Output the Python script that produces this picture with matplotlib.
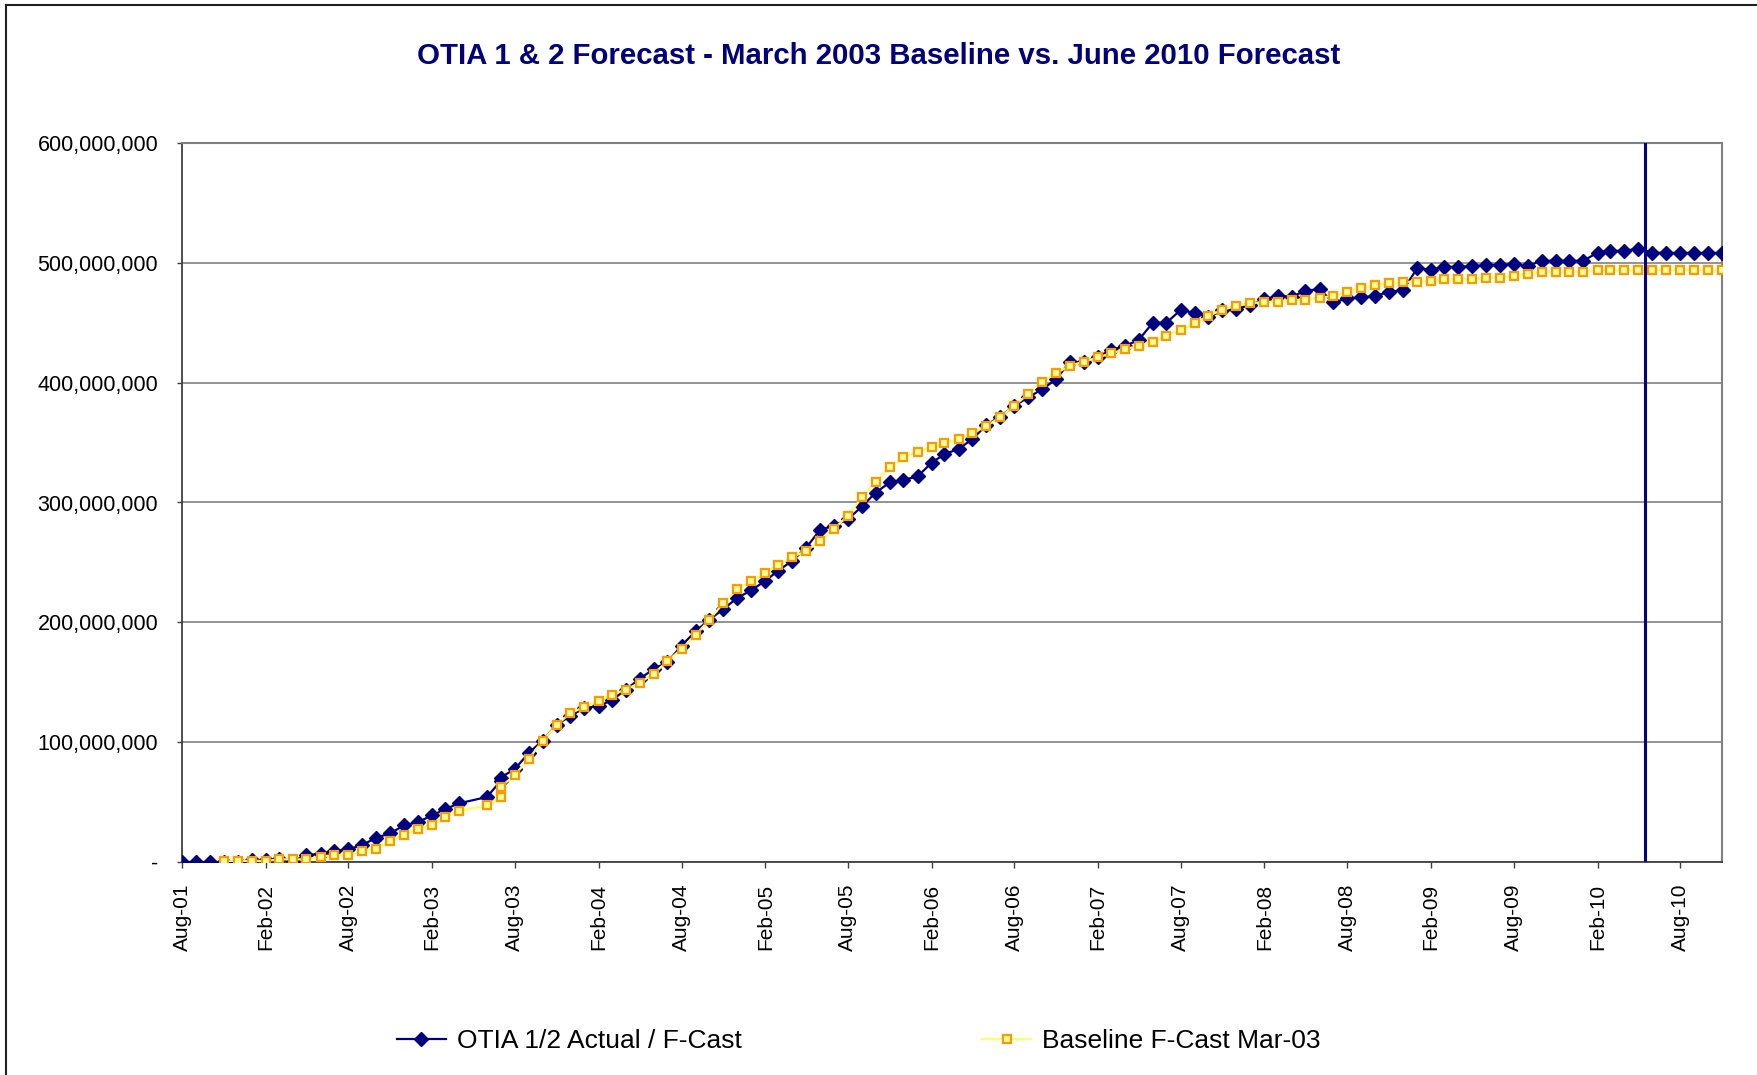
import numpy as np
import pandas as pd
import matplotlib
matplotlib.use("Agg")
import matplotlib.pyplot as plt
import matplotlib.dates as mdates
from matplotlib.ticker import FuncFormatter, MultipleLocator
from matplotlib.lines import Line2D

plt.rcParams["font.family"] = ["Liberation Sans", "DejaVu Sans"]

# One row per reporting month (no May-03 row, two Jul-03 rows)
months = [
    "2001-08", "2001-09", "2001-10", "2001-11", "2001-12",
    "2002-01", "2002-02", "2002-03", "2002-04", "2002-05", "2002-06",
    "2002-07", "2002-08", "2002-09", "2002-10", "2002-11", "2002-12",
    "2003-01", "2003-02", "2003-03", "2003-04", "2003-06", "2003-07",
    "2003-07", "2003-08", "2003-09", "2003-10", "2003-11", "2003-12",
    "2004-01", "2004-02", "2004-03", "2004-04", "2004-05", "2004-06",
    "2004-07", "2004-08", "2004-09", "2004-10", "2004-11", "2004-12",
    "2005-01", "2005-02", "2005-03", "2005-04", "2005-05", "2005-06",
    "2005-07", "2005-08", "2005-09", "2005-10", "2005-11", "2005-12",
    "2006-01", "2006-02", "2006-03", "2006-04", "2006-05", "2006-06",
    "2006-07", "2006-08", "2006-09", "2006-10", "2006-11", "2006-12",
    "2007-01", "2007-02", "2007-03", "2007-04", "2007-05", "2007-06",
    "2007-07", "2007-08", "2007-09", "2007-10", "2007-11", "2007-12",
    "2008-01", "2008-02", "2008-03", "2008-04", "2008-05", "2008-06",
    "2008-07", "2008-08", "2008-09", "2008-10", "2008-11", "2008-12",
    "2009-01", "2009-02", "2009-03", "2009-04", "2009-05", "2009-06",
    "2009-07", "2009-08", "2009-09", "2009-10", "2009-11", "2009-12",
    "2010-01", "2010-02", "2010-03", "2010-04", "2010-05", "2010-06",
    "2010-07", "2010-08", "2010-09", "2010-10", "2010-11",
]

# cumulative totals in millions
actual_m = [
    0.0, 0.0, 0.0, 0.0, 0.0,
    1.7, 1.7, 2.2, 0.8, 5.6, 7.0, 9.2, 10.6, 14.2, 20.3, 23.9, 30.6,
    33.4, 38.9, 44.0, 49.0, 54.2, 67.5, 70.5, 77.5, 91.0, 101.2, 114.7, 121.7,
    128.6, 130.0, 135.0, 143.9, 152.8, 161.1, 166.7, 180.6, 192.5, 202.2, 211.1, 220.3,
    226.7, 234.7, 243.0, 251.4, 262.0, 277.2, 280.6, 286.0, 296.7, 308.3, 316.7, 318.9,
    321.7, 333.3, 340.3, 344.7, 352.8, 364.7, 371.7, 380.6, 387.8, 394.4, 402.8, 417.5,
    416.9, 421.7, 427.2, 430.6, 435.6, 450.0, 450.0, 460.6, 458.3, 454.7, 460.3, 461.7,
    464.7, 469.7, 472.5, 471.7, 476.7, 478.1, 466.9, 470.3, 471.1, 472.5, 475.8, 477.2,
    495.3, 494.4, 496.7, 496.7, 497.2, 498.0, 498.3, 498.7, 497.4, 501.7, 501.7, 501.7,
    501.7, 508.6, 510.0, 510.0, 511.9, 508.6, 508.3, 508.3, 508.3, 508.3, 508.3,
]

baseline_m = [
    np.nan, np.nan, np.nan, 0.6, 0.6,
    1.1, 0.8, 2.2, 2.2, 2.2, 4.5, 5.8, 5.8, 9.2, 11.1, 17.5, 22.5,
    27.8, 30.9, 37.6, 42.6, 47.3, 54.2, 62.6, 72.5, 86.1, 101.2, 114.2, 124.4,
    129.2, 134.2, 139.7, 143.9, 149.4, 157.2, 167.5, 177.8, 189.2, 202.2, 216.1, 227.8,
    234.2, 241.1, 247.5, 254.4, 259.5, 267.5, 277.8, 289.0, 304.2, 317.5, 329.3, 337.8,
    342.5, 346.1, 349.4, 352.8, 357.8, 363.9, 371.1, 380.8, 390.6, 400.8, 407.8, 414.2,
    417.5, 421.1, 424.4, 427.8, 430.8, 434.2, 439.2, 444.2, 449.4, 455.7, 460.8, 464.0,
    466.1, 467.5, 467.5, 468.9, 469.4, 470.8, 472.5, 475.8, 479.2, 481.4, 482.8, 484.2,
    484.2, 484.7, 486.1, 486.1, 486.1, 487.5, 487.5, 489.2, 490.6, 492.5, 492.5, 492.5,
    492.5, 493.9, 493.9, 493.9, 493.9, 493.9, 493.9, 493.9, 493.9, 493.9, 493.9,
]

forecast_start = "2010-05-15"
x_start, x_end = "2001-08-01", "2010-11-01"

title = "OTIA 1 & 2 Forecast - March 2003 Baseline vs. June 2010 Forecast"
actual_label = "OTIA 1/2 Actual / F-Cast"
baseline_label = "Baseline F-Cast Mar-03"

NAVY = "#000080"
W, H = 1758, 1075

dates = pd.to_datetime(months)
actual = np.array(actual_m) * 1e6
baseline = np.array(baseline_m) * 1e6

fig = plt.figure(figsize=(W / 100, H / 100), dpi=100)
ax = fig.add_axes([182 / W, 1 - 862 / H, (1722 - 182) / W, (862 - 143) / H])

ax.plot(dates, actual, color=NAVY, lw=1.6, marker="D", ms=7,
        mfc=NAVY, mec=NAVY, zorder=3, label=actual_label)
ax.plot(dates, baseline, color="#FFFF66", lw=1.6, marker="s", ms=5.3,
        mfc="#FFFF99", mec="#FF9900", mew=1.6, zorder=4, label=baseline_label)
ax.axvline(pd.Timestamp(forecast_start), color="#000099", lw=2.2, zorder=5)

ax.set_xlim(pd.Timestamp(x_start), pd.Timestamp(x_end))
ax.set_ylim(0, 600e6)
ax.yaxis.set_major_locator(MultipleLocator(100e6))
ax.yaxis.set_major_formatter(FuncFormatter(lambda v, p: "-" if v == 0 else f"{v:,.0f}"))
ax.xaxis.set_major_locator(mdates.MonthLocator(bymonth=(2, 8)))
ax.xaxis.set_major_formatter(mdates.DateFormatter("%b-%y"))

ax.yaxis.grid(True, color="#808080", lw=1.2)
ax.set_axisbelow(True)
for side in ("left", "bottom"):
    ax.spines[side].set_color("#404040")
    ax.spines[side].set_linewidth(1.3)
for side in ("top", "right"):
    ax.spines[side].set_color("#808080")
    ax.spines[side].set_linewidth(1.5)

ax.tick_params(axis="y", direction="out", length=3.6, width=1, color="#404040",
               labelsize=15.5, pad=13.5)
ax.tick_params(axis="x", direction="out", length=4.5, width=1, color="#404040",
               labelsize=15, pad=11, labelrotation=90)

fig.text(0.5, 1 - 56.5 / H, title, ha="center", va="center", fontsize=21.2,
         fontweight="bold", color=NAVY)

fig.legend(loc="center left", bbox_to_anchor=(397 / W, 1 - 1041 / H), ncol=2,
           frameon=False, fontsize=19, handlelength=1.85, handletextpad=0.43,
           columnspacing=9.1, borderaxespad=0, borderpad=0)

# outer chart border (left and top edges)
fig.add_artist(Line2D([6 / W, 6 / W], [0, 1 - 5 / H], color="#202020", lw=1.5))
fig.add_artist(Line2D([6 / W, 1], [1 - 5 / H, 1 - 5 / H], color="#202020", lw=1.5))

fig.savefig("out.png", dpi=100)
